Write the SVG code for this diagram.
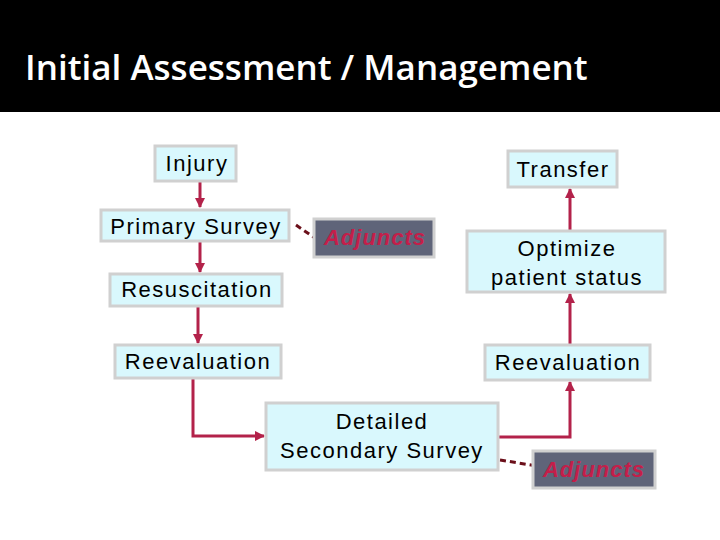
<svg xmlns="http://www.w3.org/2000/svg" width="720" height="540" viewBox="0 0 720 540">
<style>
.b{fill:#d9f8fd;stroke:#d0d0d0;stroke-width:3}
.a{fill:#5f6479;stroke:#d0d0d0;stroke-width:3}
.t{font-family:"Liberation Sans",Arial,sans-serif;font-size:22px;letter-spacing:1.5px;fill:#000;text-anchor:middle}
.at{font-family:"Liberation Sans",Arial,sans-serif;font-size:22px;letter-spacing:1px;fill:#c41e4a;font-style:italic;font-weight:bold;text-anchor:middle}
.c{fill:none;stroke:#b3224a;stroke-width:3}
.d{fill:none;stroke:#6b0f1a;stroke-width:3;stroke-dasharray:6,4}
</style>
<defs><marker id="m" viewBox="0 0 10 10" refX="9" refY="5" markerWidth="3.5" markerHeight="3.5" orient="auto"><path d="M0,0L10,5L0,10z" fill="#b3224a"/></marker></defs>
<rect width="720" height="540" fill="#fff"/>
<rect width="720" height="112" fill="#000"/>
<text x="25" y="80" font-family="'Open Sans',sans-serif" font-weight="600" font-size="35" fill="#fff">Initial Assessment / Management</text>
<g id="connectors">
<path class="c" d="M200,181V207" marker-end="url(#m)"/>
<path class="c" d="M200,241V272" marker-end="url(#m)"/>
<path class="c" d="M198,306V343" marker-end="url(#m)"/>
<path class="c" d="M193,378V436H264" marker-end="url(#m)"/>
<path class="c" d="M498,437H570V382" marker-end="url(#m)"/>
<path class="c" d="M570,345V294" marker-end="url(#m)"/>
<path class="c" d="M570,231V189" marker-end="url(#m)"/>
<path class="d" d="M296,225L322,243"/>
<path class="d" d="M500,460L537,466"/>
</g>
<g id="injury"><rect class="b" x="155" y="146" width="81" height="35"/><text class="t" x="197" y="171">Injury</text></g>
<g id="transfer"><rect class="b" x="508" y="151" width="109" height="36"/><text class="t" x="563" y="177">Transfer</text></g>
<g id="primary"><rect class="b" x="101" y="210" width="188" height="31"/><text class="t" x="196" y="234">Primary Survey</text></g>
<g id="adjuncts1"><rect class="a" x="314" y="219" width="120" height="38"/><text class="at" x="375" y="245">Adjuncts</text></g>
<g id="optimize"><rect class="b" x="467" y="231" width="198" height="61"/><text class="t" x="567" y="256">Optimize</text><text class="t" x="567" y="285">patient status</text></g>
<g id="resus"><rect class="b" x="110" y="274" width="172" height="32"/><text class="t" x="197" y="297">Resuscitation</text></g>
<g id="reeval1"><rect class="b" x="115" y="345" width="166" height="33"/><text class="t" x="198" y="369">Reevaluation</text></g>
<g id="reeval2"><rect class="b" x="485" y="345" width="165" height="35"/><text class="t" x="568" y="370">Reevaluation</text></g>
<g id="secondary"><rect class="b" x="266" y="403" width="232" height="67"/><text class="t" x="382" y="429">Detailed</text><text class="t" x="382" y="458">Secondary Survey</text></g>
<g id="adjuncts2"><rect class="a" x="533" y="451" width="122" height="37"/><text class="at" x="594" y="477">Adjuncts</text></g>
</svg>
